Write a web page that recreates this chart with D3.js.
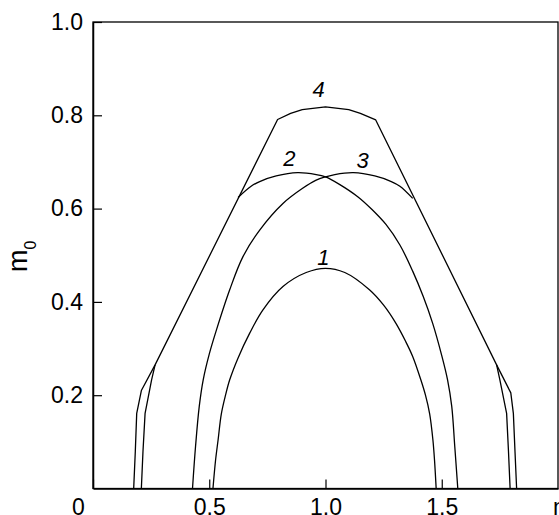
<!DOCTYPE html>
<html>
<head>
<meta charset="utf-8">
<script src="https://cdn.jsdelivr.net/npm/d3@7"></script>
<style>
  body { margin: 0; background: #fff; }
  svg { display: block; font-family: "Liberation Sans", Arial, sans-serif; }
</style>
</head>
<body>
<div class="chart"></div>
<script>
// values: [n, m0]
let curve1 = [[0.516,0],[0.527,0.06],[0.538,0.104],[0.552,0.16],[0.57,0.20],[0.588,0.233],
  [0.624,0.280],[0.674,0.333],[0.731,0.383],[0.817,0.433],[0.917,0.463],[1.0,0.472],
  [1.083,0.463],[1.189,0.426],[1.25,0.393],[1.303,0.354],[1.345,0.315],[1.375,0.283],
  [1.41,0.233],[1.43,0.2],[1.448,0.16],[1.462,0.104],[1.469,0.06],[1.476,0]];
let curve2 = [[0.624,0.624],[0.68,0.648],[0.717,0.658],[0.788,0.670],[0.88,0.677],[0.96,0.673],
  [1.0,0.668],[1.06,0.652],[1.14,0.625],[1.20,0.598],[1.26,0.566],[1.32,0.522],[1.375,0.466],
  [1.42,0.412],[1.461,0.354],[1.50,0.285],[1.525,0.233],[1.543,0.176],[1.556,0.09],[1.569,0]];
let curve3 = [[0.428,0],[0.441,0.09],[0.457,0.176],[0.474,0.233],[0.50,0.288],[0.531,0.340],
  [0.588,0.426],[0.645,0.497],[0.717,0.554],[0.817,0.611],[0.90,0.643],[0.96,0.661],[1.0,0.668],
  [1.04,0.673],[1.12,0.677],[1.212,0.670],[1.283,0.658],[1.32,0.648],[1.375,0.622]];
let curve4 = [[0.175,0],[0.182,0.08],[0.188,0.161],[0.208,0.21],[0.267,0.265],[0.794,0.791],
  [0.85,0.804],[0.90,0.812],[1.0,0.818],[1.10,0.812],[1.15,0.804],[1.216,0.790],[1.736,0.265],
  [1.797,0.205],[1.808,0.161],[1.815,0.08],[1.822,0]];
let branchLeft = [[0.208,0],[0.215,0.08],[0.224,0.161],[0.252,0.233],[0.267,0.265]];
let branchRight = [[1.736,0.265],[1.75,0.233],[1.779,0.161],[1.787,0.08],[1.794,0]];
let curveLabels = [['1',0.991,0.479],['2',0.845,0.691],['3',1.16,0.686],['4',0.97,0.839]];
let xTicks = [0, 0.5, 1.0, 1.5];
let yTicks = [0.2, 0.4, 0.6, 0.8, 1.0];

let width = 559;
let height = 515;

let svg = d3.select('.chart')
            .append('svg')
            .attr('width', width)
            .attr('height', height);

let xScale = d3.scaleLinear().domain([0, 2]).range([93, 558]);
let yScale = d3.scaleLinear().domain([0, 1]).range([488.5, 22]);

// frame
svg.append('rect')
   .attr('x', xScale(0))
   .attr('y', yScale(1))
   .attr('width', xScale(2) - xScale(0))
   .attr('height', yScale(0) - yScale(1))
   .attr('fill', 'none')
   .attr('stroke', '#000')
   .attr('stroke-width', 1.3);

let xAxis = d3.axisBottom(xScale)
              .tickValues(xTicks)
              .tickSizeInner(-9)
              .tickSizeOuter(0)
              .tickPadding(10)
              .tickFormat(d => d === 0 ? '0' : d3.format('.1f')(d));
let yAxis = d3.axisLeft(yScale)
              .tickValues(yTicks)
              .tickSizeInner(-9)
              .tickSizeOuter(0)
              .tickPadding(10)
              .tickFormat(d3.format('.1f'));

let gx = svg.append('g')
   .attr('transform', 'translate(0,' + yScale(0) + ')')
   .call(xAxis);
let gy = svg.append('g')
   .attr('transform', 'translate(' + xScale(0) + ',0)')
   .call(yAxis);

[gx, gy].forEach(g => {
  g.select('.domain').attr('stroke', '#000').attr('stroke-width', 1.5);
  g.selectAll('.tick line').attr('stroke', '#000').attr('stroke-width', 1.2);
  g.selectAll('.tick text')
   .attr('fill', '#000')
   .style('font-size', '23px')
   .style('font-family', '"Liberation Sans", Arial, sans-serif');
});
// the 0 sits left of the corner
gx.selectAll('.tick text').filter(d => d === 0).attr('dx', -15);

svg.append('text')
   .attr('x', 553)
   .attr('y', yScale(0) + 26)
   .style('font-size', '23px')
   .text('n');

let ylabel = svg.append('text')
   .attr('transform', 'translate(27,' + 272 + ') rotate(-90)')
   .style('font-size', '27px');
ylabel.append('tspan').text('m');
ylabel.append('tspan').attr('dy', 9).style('font-size', '16px').text('0');

let smooth = d3.line()
               .x(d => xScale(d[0]))
               .y(d => yScale(d[1]))
               .curve(d3.curveCatmullRom.alpha(0.5));
let straight = d3.line()
               .x(d => xScale(d[0]))
               .y(d => yScale(d[1]));

[curve1, curve2, curve3].forEach(c => {
  svg.append('path')
     .attr('d', smooth(c))
     .attr('fill', 'none')
     .attr('stroke', '#000')
     .attr('stroke-width', 1.3);
});
[curve4, branchLeft, branchRight].forEach(c => {
  svg.append('path')
     .attr('d', straight(c))
     .attr('fill', 'none')
     .attr('stroke', '#000')
     .attr('stroke-width', 1.3)
     .attr('stroke-linejoin', 'round');
});

svg.selectAll('.clabel')
   .data(curveLabels)
   .enter()
   .append('text')
   .attr('class', 'clabel')
   .attr('x', d => xScale(d[1]))
   .attr('y', d => yScale(d[2]))
   .attr('text-anchor', 'middle')
   .style('font-size', '22px')
   .style('font-style', 'italic')
   .text(d => d[0]);
</script>
</body>
</html>
